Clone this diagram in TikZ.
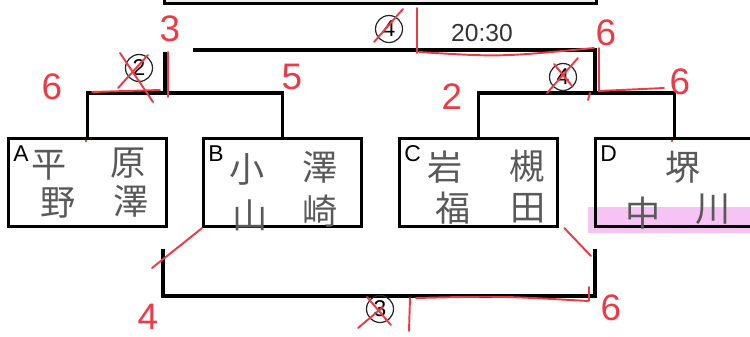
\documentclass[tikz,border=0pt]{standalone}
\usepackage{fontspec}
\setmainfont{Liberation Sans}
\newfontfamily\jp{Noto Sans CJK JP}
\usetikzlibrary{positioning}
\definecolor{redink}{RGB}{236,58,70}
\definecolor{marker}{RGB}{246,196,244}
\tikzset{team/.style = {draw=black, line width=1.8pt, minimum width=3.16cm, minimum height=1.76cm, inner sep=0pt, anchor=north west},
         tag/.style = {font=\fontsize{13}{13}\selectfont, inner sep=0pt, anchor=north west},
         player/.style = {font=\jp\fontsize{20}{20}\selectfont, text=black!65, inner sep=0pt},
         line/.style = {line width=1.8pt},
         redline/.style = {draw=redink, line width=1.1pt, line cap=round},
         score/.style = {text=redink, font=\fontsize{21}{21}\selectfont, inner sep=0pt},
         matchno/.style = {circle, draw=black!85, line width=0.7pt, minimum size=0.54cm, inner sep=0pt, font=\fontsize{13}{13}\selectfont}}

\begin{document}
\begin{tikzpicture}[x=0.02cm, y=-0.02cm]
        \useasboundingbox (0,0) rectangle (750,336);
        \fill[marker] (588,207) rectangle (750,233);

        \node [draw, line width=1.8pt, fill=black!7, minimum width=8.64cm, minimum height=1.2cm, inner sep=0pt, anchor=south west] (final) at (163,5) {};

        \node [team] (A) at (7,137) {};
        \node [team] (B) at (202,137) {};
        \node [team] (C) at (398,137) {};
        \node [team] (D) at (594,137) {};

        \node [tag] (tA) at ([shift={(6,8)}]A.north west) {A};
        \node [tag] (tB) at ([shift={(6,8)}]B.north west) {B};
        \node [tag] (tC) at ([shift={(6,8)}]C.north west) {C};
        \node [tag] (tD) at ([shift={(6,8)}]D.north west) {D};

        \node [player] (a1) at (49,165) {平};
        \node [player] (a2) at (58,203) {野};
        \node [player] (a3) at (128,163) {原};
        \node [player] (a4) at (131,201) {澤};
        \node [player] (b1) at (247,169) {小};
        \node [player] (b2) at (320,167) {澤};
        \node [player] (b3) at (250,215) {山};
        \node [player] (b4) at (320,211) {崎};
        \node [player] (c1) at (445,167) {岩};
        \node [player] (c2) at (527,166) {槻};
        \node [player] (c3) at (453,208) {福};
        \node [player] (c4) at (528,208) {田};
        \node [player] (d1) at (683,167) {堺};
        \node [player] (d2) at (643,213) {中};
        \node [player] (d3) at (713,209) {川};

        \coordinate (ab) at (165,93);
        \coordinate (abtop) at (165,52);
        \coordinate (cd) at (595,93);
        \coordinate (fin) at (193,50);
        \coordinate (bl) at (163,249);
        \coordinate (br) at (595,249);

        \draw [line] (A.north) |- (ab) -| (B.north);
        \draw [line] (ab) -- (abtop);
        \draw [line] (C.north) |- (cd) -| (D.north);
        \draw [line] (cd) |- (fin);
        \draw [line] (bl) -- ++(0,47) -| (br);

        \node [matchno] (m2) at (139,68) {2};
        \node [matchno] (m4a) at (389,29) {4};
        \node [matchno] (m4b) at (563,77) {4};
        \node [matchno] (m3) at (380,309) {3};

        \node [font=\fontsize{14}{14}\selectfont, text=black!80] (time) at (482,33) {20:30};

        \node [score] (s3) at (170,29) {3};
        \node [score] (s6a) at (52,87) {6};
        \node [score] (s5) at (292,77) {5};
        \node [score] (s2) at (452,97) {2};
        \node [score] (s6b) at (606,33) {6};
        \node [score] (s6c) at (680,82) {6};
        \node [score] (s4) at (148,317) {4};
        \node [score] (s6d) at (611,308) {6};

        \draw [redline] (403,9) -- (374,42);
        \draw [redline] (417,8) -- (417,53);
        \draw [redline] (419,52) .. controls (500,57) .. (594,48);
        \draw [redline] (599,48) -- (599,91) -- (664,88);
        \draw [redline] (168,52) -- (168,97);
        \draw [redline] (92,92) -- (160,90);
        \draw [redline] (120,53) -- (153,102);
        \draw [redline] (148,55) -- (118,88);
        \draw [redline] (578,58) -- (547,93);
        \draw [redline] (554,64) -- (572,86);
        \draw [redline] (590,93) -- (588,100);
        \draw [redline] (B.south west) -- (152,268);
        \draw [redline] ([xshift=3]C.south east) -- (591,256);
        \draw [redline] (410,298) -- (409,331);
        \draw [redline] (416,298) .. controls (500,296) .. (588,301);
        \draw [redline] (589,287) -- (589,301);
        \draw [redline] (367,297) -- (391,325);
        \draw [redline] (358,328) -- (383,307);
        \fill [redink] (86,141) circle (1.4);
        \fill [redink] (672,141) circle (1.4);
    \end{tikzpicture}
\end{document}
